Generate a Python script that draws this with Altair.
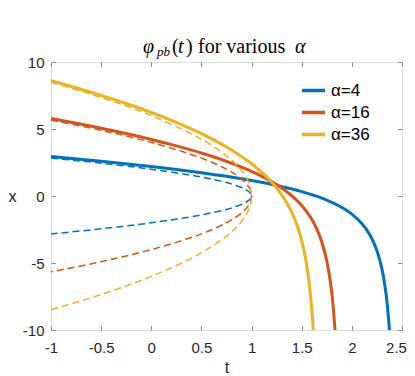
import altair as alt
import pandas as pd

W, H = 351, 268

alphas = ["α=4", "α=16", "α=36"]
colors = ["#0072BD", "#D95319", "#EDB120"]

# solid curves: pullback solution phi_pb(t)
t_pb_4 = [-1, -0.5, 0, 0.25, 0.5, 0.75, 1.0, 1.25, 1.5, 1.625, 1.75, 1.875, 2.0, 2.1, 2.15, 2.2, 2.25, 2.3, 2.33, 2.35, 2.375]
x_pb_4 = [2.94, 2.60, 2.20, 1.98, 1.74, 1.47, 1.16, 0.79, 0.33, 0.04, -0.30, -0.75, -1.35, -2.06, -2.55, -3.19, -4.09, -5.44, -6.72, -7.89, -10.0]

t_pb_16 = [-1, -0.5, 0, 0.25, 0.5, 0.75, 0.9, 1.0, 1.1, 1.2, 1.3, 1.4, 1.5, 1.6, 1.65, 1.7, 1.75, 1.78, 1.8, 1.815, 1.832]
x_pb_16 = [5.78, 5.05, 4.22, 3.74, 3.21, 2.59, 2.16, 1.84, 1.48, 1.07, 0.60, 0.03, -0.71, -1.74, -2.46, -3.43, -4.85, -6.12, -7.25, -8.36, -10.0]

t_pb_36 = [-1, -0.75, -0.5, -0.25, 0, 0.25, 0.5, 0.7, 0.8, 0.9, 1.0, 1.1, 1.2, 1.3, 1.35, 1.4, 1.45, 1.5, 1.525, 1.55, 1.575, 1.6, 1.61, 1.6145]
x_pb_36 = [8.61, 8.08, 7.51, 6.90, 6.23, 5.49, 4.65, 3.87, 3.43, 2.95, 2.41, 1.77, 1.04, 0.09, -0.50, -1.21, -2.11, -3.33, -4.14, -5.17, -6.52, -8.42, -9.44, -10.0]

# dashed curves: equilibrium branches (upper half; the lower half is its mirror image)
t_eq = [-1, -0.5, 0, 0.5, 0.75, 0.859, 0.9375, 0.984, 1.0]
x_eq_4 = [2.83, 2.45, 2.0, 1.41, 1.0, 0.75, 0.5, 0.25, 0.0]
x_eq_16 = [5.66, 4.90, 4.0, 2.83, 2.0, 1.5, 1.0, 0.5, 0.0]
x_eq_36 = [8.49, 7.35, 6.0, 4.24, 3.0, 2.25, 1.5, 0.75, 0.0]

x_ticks = [-1, -0.5, 0, 0.5, 1, 1.5, 2, 2.5]
y_ticks = [-10, -5, 0, 5, 10]

rows = []
for a, ts, xs_ in zip(alphas, [t_pb_4, t_pb_16, t_pb_36], [x_pb_4, x_pb_16, x_pb_36]):
    for i, (t, x) in enumerate(zip(ts, xs_)):
        rows.append({"alpha": a, "t": t, "x": x, "idx": i})
df_pb = pd.DataFrame(rows)

rows = []
for a, xs_ in zip(alphas, [x_eq_4, x_eq_16, x_eq_36]):
    path_t = t_eq + t_eq[-2::-1]
    path_x = xs_ + [-v for v in xs_[-2::-1]]
    for i, (t, x) in enumerate(zip(path_t, path_x)):
        rows.append({"alpha": a, "t": t, "x": x, "idx": i})
df_eq = pd.DataFrame(rows)

FONT = "Liberation Sans"
SERIF = "Liberation Serif"
GRAY = "#8a8a8a"
TXT = "#262626"

xs = alt.Scale(domain=[-1, 2.5], nice=False, zero=False)
ys = alt.Scale(domain=[-10, 10], nice=False, zero=False)
cs = alt.Scale(domain=alphas, range=colors)

lab = "'' + datum.value"

ax_x_main = alt.Axis(values=x_ticks, labelExpr=lab, ticks=False, domain=False, grid=False,
                     title="t", labelFont=FONT, labelFontSize=15, labelColor=TXT, labelPadding=10,
                     labelOffset={"condition": {"test": "datum.value === 2.5", "value": -6}, "value": 0},
                     titleFont=FONT, titleFontSize=16, titleFontWeight="normal", titleColor=TXT,
                     titleX=W / 2, titleY=37, titleAlign="center", titleBaseline="middle",
                     labelFlush=False)
ax_y_main = alt.Axis(values=y_ticks, labelExpr=lab, ticks=False, domain=False, grid=False,
                     title="x", labelFont=FONT, labelFontSize=15, labelColor=TXT, labelPadding=7,
                     titleFont=FONT, titleFontSize=16, titleFontWeight="normal", titleColor=TXT,
                     titleAngle=0, titleX=-39, titleY=H / 2, titleAlign="center",
                     titleBaseline="middle", labelFlush=False)

def tick_axis(orient, offset, vals):
    return alt.Axis(orient=orient, offset=offset, values=vals, labels=False, domain=False,
                    grid=False, ticks=True, tickSize=4.5, tickColor=GRAY, tickWidth=1, title=None)

dashed = alt.Chart(df_eq).mark_line(strokeWidth=1.5, strokeDash=[7, 4], interpolate="catmull-rom", clip=True).encode(
    x=alt.X("t:Q", scale=xs, axis=ax_x_main),
    y=alt.Y("x:Q", scale=ys, axis=ax_y_main),
    color=alt.Color("alpha:N", scale=cs, legend=None),
    order=alt.Order("idx:Q"),
)

solid = alt.Chart(df_pb).mark_line(strokeWidth=3, interpolate="monotone", clip=True).encode(
    x=alt.X("t:Q", scale=xs, axis=tick_axis("top", -H, x_ticks)),
    y=alt.Y("x:Q", scale=ys, axis=tick_axis("right", -W, y_ticks)),
    color=alt.Color("alpha:N", scale=cs, legend=alt.Legend(
        title=None, orient="none", legendX=249, legendY=15, symbolType="stroke",
        symbolStrokeWidth=3.5, symbolSize=529, labelFont=FONT, labelFontSize=17,
        labelColor="#000", labelOffset=4, rowPadding=0, padding=0)),
    order=alt.Order("idx:Q"),
)

ghost = alt.Chart(df_pb).mark_point(opacity=0).encode(
    x=alt.X("t:Q", scale=xs, axis=tick_axis("bottom", -H, x_ticks)),
    y=alt.Y("x:Q", scale=ys, axis=tick_axis("left", -W, y_ticks)),
)

title_parts = [
    ("φ", 92, -9, 20, "italic"),
    ("pb", 106, -6, 13, "italic"),
    ("(", 121, -9, 20, "normal"),
    ("t", 127, -9, 20, "italic"),
    (")", 135, -9, 20, "normal"),
    ("for various", 147, -9, 20, "normal"),
    ("α", 244, -9, 20, "italic"),
]
tdf = pd.DataFrame({"d": [0]})
title_layers = [
    alt.Chart(tdf).mark_text(text=txt, align="left", baseline="alphabetic", font=SERIF,
                             fontSize=fs, fontStyle=st, color="#000").encode(
        x=alt.value(px), y=alt.value(py))
    for txt, px, py, fs, st in title_parts
]

chart = alt.layer(solid, dashed, ghost, *title_layers).resolve_axis(
    x="independent", y="independent"
).resolve_legend(color="independent").properties(
    width=W, height=H,
    autosize=alt.AutoSizeParams(type="none"),
    padding={"left": 43, "top": 54, "right": 5, "bottom": 46},
).configure_view(stroke=GRAY, strokeWidth=1).configure(background="white")

chart.save("out.html", embed_options={"renderer": "svg", "actions": False})
